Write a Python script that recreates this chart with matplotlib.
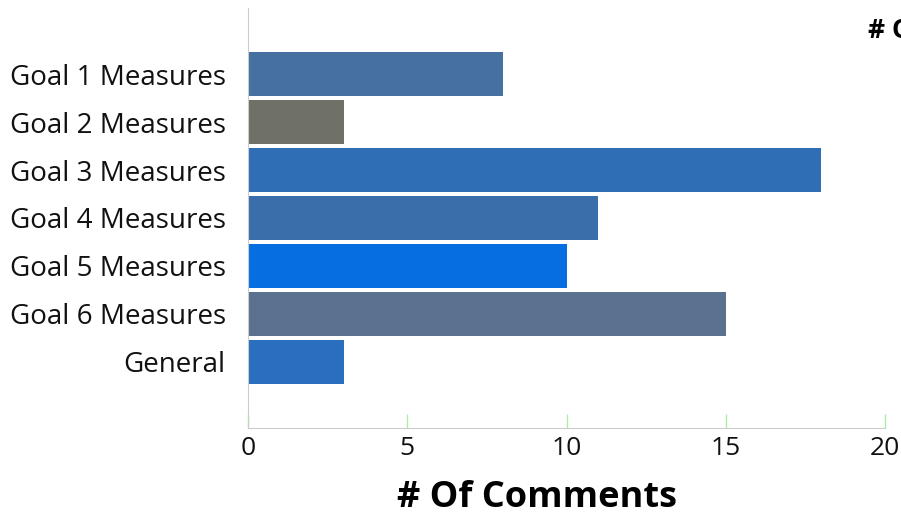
import matplotlib.pyplot as plt

categories = [
    "Goal 1 Measures",
    "Goal 2 Measures",
    "Goal 3 Measures",
    "Goal 4 Measures",
    "Goal 5 Measures",
    "Goal 6 Measures",
    "General",
]
comments = [8, 3, 18, 11, 10, 15, 3]
bar_colors = [
    "#46709f",
    "#6f7068",
    "#2f6eb5",
    "#3a6eab",
    "#076ee2",
    "#5a7290",
    "#2a6ec0",
]
x_ticks = [0, 5, 10, 15, 20]

plt.rcParams["font.family"] = ["Open Sans", "DejaVu Sans"]

fig = plt.figure(figsize=(9.01, 5.14), dpi=100)
ax = fig.add_axes([248 / 901, 1 - 428 / 514, (885 - 248) / 901, 420 / 514])

pos = list(range(len(categories)))
ax.barh(pos, comments, height=0.9, color=bar_colors)

ax.set_xlim(0, 20)
ax.set_ylim(len(categories) - 1 + 1.375, -1.375)
ax.set_yticks(pos)
ax.set_yticklabels(categories, fontsize=20)
ax.set_xticks(x_ticks)
ax.set_xticklabels([str(t) for t in x_ticks], fontsize=19)

# spines
for s in ["top", "right"]:
    ax.spines[s].set_visible(False)
ax.spines["left"].set_color("#cccccc")
ax.spines["bottom"].set_color("#cccccc")

ax.tick_params(axis="y", length=0, pad=16, colors="#111111")
ax.tick_params(axis="x", direction="in", length=10, width=1,
               pad=6, labelcolor="#111111", color="#a6f0a6")

# axis title, sits a bit left of the plot centre like the original
fig.text(537 / 901, 1 - 507 / 514, "# Of Comments", fontsize=26,
         fontweight="bold", va="baseline", ha="center")

# chart title, mostly off the right edge
fig.text(868 / 901, 1 - 30 / 514, "# Of Comments", fontsize=19,
         fontweight="bold", va="center", ha="left")

fig.savefig("out.png", dpi=100)
